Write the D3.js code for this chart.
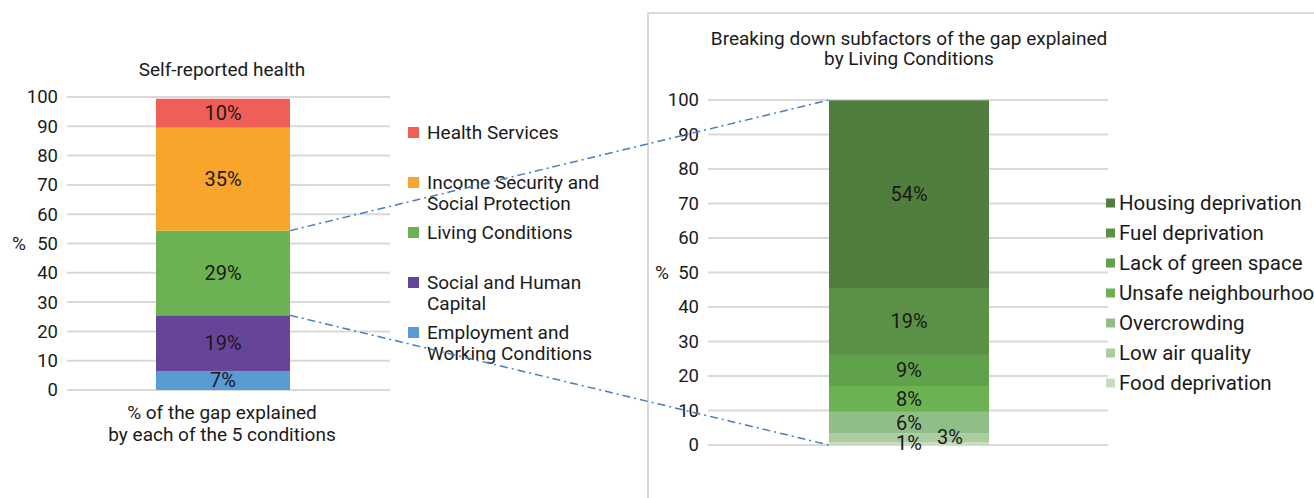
<!DOCTYPE html>
<html>
<head>
<meta charset="utf-8">
<script src="https://cdn.jsdelivr.net/npm/d3@7"></script>
<style>
  html, body { margin: 0; padding: 0; background: #fff; }
  svg { display: block; }
  text { font-family: Roboto, "DejaVu Sans", sans-serif; fill: #1a1a1a; }
</style>
</head>
<body>
<svg id="chart" width="1314" height="498"></svg>
<script>
// ---------- DATA ----------
const leftCategories = ["Employment and\nWorking Conditions", "Social and Human\nCapital", "Living Conditions", "Income Security and\nSocial Protection", "Health Services"];
const leftValues = [6.5, 19.0, 28.9, 35.1, 9.9];
const leftColors = ["#5b9bd5", "#66449a", "#6cb152", "#f8a52c", "#ef5f58"];

const rightCategories = ["Food deprivation", "Low air quality", "Overcrowding", "Unsafe neighbourhood", "Lack of green space", "Fuel deprivation", "Housing deprivation"];
const rightValues = [0.8, 2.6, 6.2, 7.5, 9.0, 19.4, 54.4];
const rightColors = ["#c5dcbd", "#abcba1", "#8fbe87", "#6cb152", "#60a14b", "#5a9147", "#507e3c"];

const yTicks = [0, 10, 20, 30, 40, 50, 60, 70, 80, 90, 100];

const leftTitle = "Self-reported health";
const leftXLabel = ["% of the gap explained", "by each of the 5 conditions"];
const rightTitle = ["Breaking down subfactors of the gap explained", "by Living Conditions"];

// ---------- LAYOUT ----------
const svg = d3.select("#chart");
const FS = 19;     // titles, left legend
const FSL = 20;    // data labels
const FSR = 20.5;  // right legend

function stack(values) {
  let c = 0;
  return values.map(v => { const s = c; c += v; return [s, c, v]; });
}

// panel border on right
svg.append("path")
  .attr("d", "M648,498 L648,13 L1314,13")
  .attr("fill", "none").attr("stroke", "#d9d9d9").attr("stroke-width", 2);

// ---- Left chart ----
const yL = d3.scaleLinear().domain([0, 100]).range([390, 97]);

const gL = svg.append("g");
gL.selectAll("line.grid").data(yTicks).join("line")
  .attr("x1", 67).attr("x2", 390)
  .attr("y1", d => yL(d)).attr("y2", d => yL(d))
  .attr("stroke", "#d9d9d9").attr("stroke-width", 2);

const axL = d3.axisLeft(yL).tickValues(yTicks).tickSize(0).tickPadding(5);
gL.append("g").attr("transform", "translate(63,0)").call(axL)
  .call(g => g.select(".domain").remove())
  .selectAll("text").attr("font-size", 18.5).attr("fill", "#1a1a1a").style("font-family", "Roboto");

const stL = stack(leftValues);
const bx0 = 156, bw = 134;
const xBarL = d3.scaleLinear().domain([0, 1]).range([bx0, bx0 + bw]);
gL.selectAll("rect.seg").data(stL).join("rect")
  .attr("x", xBarL(0)).attr("width", xBarL(1) - xBarL(0))
  .attr("y", d => yL(d[1])).attr("height", d => yL(d[0]) - yL(d[1]))
  .attr("fill", (d, i) => leftColors[i]);
gL.selectAll("text.lab").data(stL).join("text")
  .attr("x", (xBarL(0) + xBarL(1)) / 2)
  .attr("y", d => (yL(d[0]) + yL(d[1])) / 2)
  .attr("dy", "0.35em").attr("text-anchor", "middle").attr("font-size", FSL)
  .text(d => Math.round(d[2]) + "%");

gL.append("text").attr("x", 222).attr("y", 76).attr("text-anchor", "middle").attr("font-size", FS).text(leftTitle);
gL.append("text").attr("x", 19).attr("y", yL(50)).attr("dy", "0.35em").attr("text-anchor", "middle").attr("font-size", FS).text("%");
leftXLabel.forEach((t, i) => gL.append("text").attr("x", 222).attr("y", 419 + i * 22).attr("text-anchor", "middle").attr("font-size", FS).text(t));

// left legend (top to bottom: reverse order)
const legL = svg.append("g");
const legLData = leftCategories.map((c, i) => ({ c, col: leftColors[i] })).reverse();
legLData.forEach((d, i) => {
  const y = 132 + i * 50;
  legL.append("rect").attr("x", 408).attr("y", y - 5).attr("width", 11).attr("height", 11).attr("fill", d.col);
  d.c.split("\n").forEach((line, j) => {
    legL.append("text").attr("x", 427).attr("y", y + j * 21).attr("dy", "0.35em").attr("font-size", FS).text(line);
  });
});

// ---- Right chart ----
const yR = d3.scaleLinear().domain([0, 100]).range([445, 100]);
const gR = svg.append("g");
gR.selectAll("line.grid").data(yTicks).join("line")
  .attr("x1", 708).attr("x2", 1108)
  .attr("y1", d => yR(d)).attr("y2", d => yR(d))
  .attr("stroke", "#d9d9d9").attr("stroke-width", 2);
const axR = d3.axisLeft(yR).tickValues(yTicks).tickSize(0).tickPadding(5);
gR.append("g").attr("transform", "translate(704,0)").call(axR)
  .call(g => g.select(".domain").remove())
  .selectAll("text").attr("font-size", 18.5).attr("fill", "#1a1a1a").style("font-family", "Roboto");

const stR = stack(rightValues);
const rx0 = 829, rw = 160;
const xBarR = d3.scaleLinear().domain([0, 1]).range([rx0, rx0 + rw]);
gR.selectAll("rect.seg").data(stR).join("rect")
  .attr("x", xBarR(0)).attr("width", xBarR(1) - xBarR(0))
  .attr("y", d => yR(d[1])).attr("height", d => yR(d[0]) - yR(d[1]))
  .attr("fill", (d, i) => rightColors[i]);
gR.selectAll("text.lab").data(stR).join("text")
  .attr("x", (d, i) => i === 1 ? (xBarR(0) + xBarR(1)) / 2 + 41 : (xBarR(0) + xBarR(1)) / 2)
  .attr("y", (d, i) => i === 0 ? yR(d[0]) - 2 : i === 1 ? yR(d[1]) + 4 : (yR(d[0]) + yR(d[1])) / 2)
  .attr("dy", "0.35em").attr("text-anchor", "middle").attr("font-size", FSL)
  .text(d => Math.round(d[2]) + "%");

rightTitle.forEach((t, i) => gR.append("text").attr("x", 909).attr("y", 45 + i * 20).attr("text-anchor", "middle").attr("font-size", FS).text(t));
gR.append("text").attr("x", 662).attr("y", yR(50)).attr("dy", "0.35em").attr("text-anchor", "middle").attr("font-size", FS).text("%");

const legR = svg.append("g");
const legRData = rightCategories.map((c, i) => ({ c, col: rightColors[i] })).reverse();
legRData.forEach((d, i) => {
  const y = 203 + i * 30;
  legR.append("rect").attr("x", 1106).attr("y", y - 4.5).attr("width", 9).attr("height", 9).attr("fill", d.col);
  legR.append("text").attr("x", 1119).attr("y", y).attr("dy", "0.35em").attr("font-size", FSR).text(d.c);
});

// ---- Connector lines (dash-dot) ----
const livingIdx = 2;
const conn = [
  [[xBarL(1), yL(stL[livingIdx][1])], [xBarR(0), yR(100)]],
  [[xBarL(1), yL(stL[livingIdx][0])], [xBarR(0), yR(0)]]
];
svg.selectAll("path.conn").data(conn).join("path")
  .attr("d", d => d3.line()(d))
  .attr("fill", "none").attr("stroke", "#4a7ebb").attr("stroke-width", 1.5)
  .attr("stroke-dasharray", "8,4,2,4");
</script>
</body>
</html>
